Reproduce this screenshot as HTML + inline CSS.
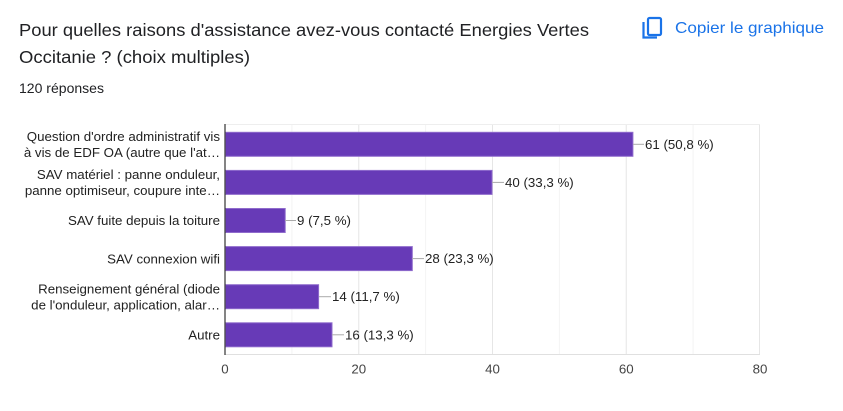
<!DOCTYPE html>
<html><head><meta charset="utf-8">
<style>
html,body{margin:0;padding:0;background:#fff;}
svg{display:block;}
text{font-family:"Liberation Sans",Arial,sans-serif;}
</style></head>
<body>
<svg width="843" height="411" viewBox="0 0 843 411" xmlns="http://www.w3.org/2000/svg">
<rect width="843" height="411" fill="#fff"/>
<!-- Title -->
<text x="19" y="36" font-size="17.5" fill="#202124" textLength="570" lengthAdjust="spacingAndGlyphs">Pour quelles raisons d'assistance avez-vous contacté Energies Vertes</text>
<text x="19" y="63" font-size="17.5" fill="#202124" textLength="231" lengthAdjust="spacingAndGlyphs">Occitanie ? (choix multiples)</text>
<text x="19" y="93" font-size="13.5" fill="#202124" textLength="85" lengthAdjust="spacingAndGlyphs">120 réponses</text>
<!-- Copy icon -->
<g fill="none" stroke="#1a73e8" stroke-width="2.2">
<rect x="648" y="18" width="13" height="17" rx="1.5"/>
<path d="M643.5 22 V37.5 H657"/>
</g>
<text x="675" y="33" font-size="16" fill="#1a73e8" textLength="149" lengthAdjust="spacingAndGlyphs">Copier le graphique</text>

<!-- gridlines -->
<g stroke-width="1">
<line x1="291.9" y1="124.5" x2="291.9" y2="354" stroke="#f4f4f4"/>
<line x1="425.6" y1="124.5" x2="425.6" y2="354" stroke="#f4f4f4"/>
<line x1="559.4" y1="124.5" x2="559.4" y2="354" stroke="#f4f4f4"/>
<line x1="693.1" y1="124.5" x2="693.1" y2="354" stroke="#f4f4f4"/>
<line x1="358.75" y1="124.5" x2="358.75" y2="354" stroke="#e6e6e6"/>
<line x1="492.5" y1="124.5" x2="492.5" y2="354" stroke="#e6e6e6"/>
<line x1="626.25" y1="124.5" x2="626.25" y2="354" stroke="#e6e6e6"/>
<line x1="759.5" y1="124.5" x2="759.5" y2="354" stroke="#e6e6e6"/>
<line x1="225" y1="124.5" x2="760" y2="124.5" stroke="#eeeeee"/>
<line x1="225" y1="354.5" x2="760" y2="354.5" stroke="#e0e0e0"/>
</g>

<!-- bars -->
<g fill="#673ab7" stroke="#8f6bcc" stroke-width="1">
<rect x="225.5" y="132.3" width="407.4" height="24"/>
<rect x="225.5" y="170.4" width="266.5" height="24"/>
<rect x="225.5" y="208.5" width="59.7" height="24"/>
<rect x="225.5" y="246.6" width="186.8" height="24"/>
<rect x="225.5" y="284.7" width="93.1" height="24"/>
<rect x="225.5" y="322.8" width="106.5" height="24"/>
</g>
<!-- axis -->
<line x1="225" y1="124" x2="225" y2="355" stroke="#333" stroke-width="1.2"/>

<!-- leader lines -->
<g stroke="#aaaaaa" stroke-width="1">
<line x1="633" y1="144.3" x2="644" y2="144.3"/>
<line x1="492" y1="182.4" x2="504" y2="182.4"/>
<line x1="285" y1="220.5" x2="296" y2="220.5"/>
<line x1="412" y1="258.6" x2="424" y2="258.6"/>
<line x1="319" y1="296.7" x2="331" y2="296.7"/>
<line x1="332" y1="334.8" x2="344" y2="334.8"/>
</g>
<!-- value labels -->
<g font-size="13.3" fill="#222">
<text x="645" y="149">61 (50,8 %)</text>
<text x="505" y="187">40 (33,3 %)</text>
<text x="297" y="225">9 (7,5 %)</text>
<text x="425" y="263">28 (23,3 %)</text>
<text x="332" y="301">14 (11,7 %)</text>
<text x="345" y="339.5">16 (13,3 %)</text>
</g>

<!-- category labels -->
<g font-size="13.3" fill="#222" text-anchor="end">
<text x="220" y="141">Question d'ordre administratif vis</text>
<text x="220" y="157">à vis de EDF OA (autre que l'at…</text>
<text x="220" y="179.1">SAV matériel : panne onduleur,</text>
<text x="220" y="195.1">panne optimiseur, coupure inte…</text>
<text x="220" y="225.2">SAV fuite depuis la toiture</text>
<text x="220" y="263.3">SAV connexion wifi</text>
<text x="220" y="293.4">Renseignement général (diode</text>
<text x="220" y="309.4">de l'onduleur, application, alar…</text>
<text x="220" y="339.5">Autre</text>
</g>

<!-- x tick labels -->
<g font-size="13.3" fill="#444" text-anchor="middle">
<text x="225" y="373.5">0</text>
<text x="358.75" y="373.5">20</text>
<text x="492.5" y="373.5">40</text>
<text x="626.25" y="373.5">60</text>
<text x="760" y="373.5">80</text>
</g>
</svg>
</body></html>
